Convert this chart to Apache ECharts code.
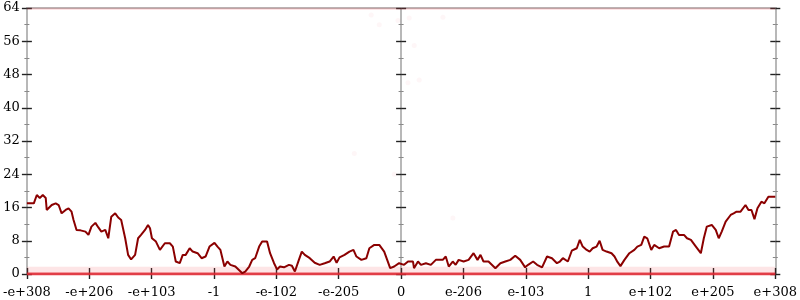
<!DOCTYPE html>
<html><head><meta charset="utf-8">
<script src="https://cdn.jsdelivr.net/npm/echarts@6/dist/echarts.min.js"></script>
<style>html,body{margin:0;padding:0;background:#fff}#c{width:800px;height:300px}</style>
</head><body><div id="c"></div>
<script>
const xTickLabels = ['-e+308','-e+206','-e+103','-1','-e-102','-e-205','0','e-206','e-103','1','e+102','e+205','e+308'];
const yTicks = [0,8,16,24,32,40,48,56,64];
const lineX = [-6,-5.889,-5.841,-5.793,-5.745,-5.698,-5.682,-5.650,-5.602,-5.538,-5.491,-5.443,-5.379,-5.332,-5.284,-5.252,-5.204,-5.141,-5.061,-5.013,-4.965,-4.902,-4.854,-4.806,-4.743,-4.695,-4.647,-4.584,-4.536,-4.488,-4.424,-4.377,-4.329,-4.265,-4.217,-4.170,-4.106,-4.058,-4.026,-3.995,-3.931,-3.867,-3.788,-3.708,-3.660,-3.613,-3.549,-3.501,-3.454,-3.390,-3.342,-3.263,-3.199,-3.135,-3.072,-2.992,-2.944,-2.897,-2.833,-2.785,-2.737,-2.658,-2.546,-2.499,-2.435,-2.387,-2.340,-2.276,-2.228,-2.149,-2.101,-2.037,-1.989,-1.942,-1.878,-1.798,-1.751,-1.703,-1.639,-1.592,-1.544,-1.464,-1.385,-1.305,-1.225,-1.146,-1.082,-1.034,-0.987,-0.907,-0.828,-0.764,-0.716,-0.637,-0.557,-0.509,-0.430,-0.350,-0.271,-0.223,-0.175,-0.111,-0.032,0,0.048,0.111,0.191,0.207,0.271,0.318,0.398,0.477,0.557,0.668,0.716,0.764,0.828,0.875,0.923,1.003,1.082,1.162,1.225,1.273,1.321,1.401,1.512,1.592,1.671,1.751,1.830,1.910,1.989,2.037,2.117,2.180,2.260,2.340,2.419,2.499,2.546,2.594,2.674,2.737,2.817,2.865,2.912,2.976,3.024,3.072,3.135,3.183,3.231,3.294,3.374,3.422,3.469,3.517,3.581,3.660,3.740,3.788,3.851,3.899,3.947,4.011,4.058,4.138,4.217,4.297,4.361,4.408,4.456,4.536,4.584,4.647,4.727,4.806,4.854,4.902,4.981,5.045,5.093,5.141,5.204,5.284,5.332,5.379,5.443,5.522,5.570,5.618,5.666,5.714,5.777,5.825,5.889,6];
const lineY = [17.0,17.0,19.0,18.3,19.0,18.3,15.4,15.0,16.6,17.0,16.6,14.6,15.4,15.8,15.0,13.0,10.6,10.5,10.2,9.4,11.4,12.3,11.2,10.2,10.6,8.6,13.8,14.6,13.6,13.0,8.6,4.6,3.5,4.6,8.6,9.4,10.6,11.8,11.0,8.6,7.8,5.8,7.4,7.4,6.6,3.0,2.6,4.6,4.6,6.2,5.4,5.0,3.8,4.2,6.6,7.5,6.6,5.8,1.8,3.0,2.2,1.8,0.2,0.6,1.8,3.4,3.8,6.6,7.8,7.8,5.0,2.6,1.1,1.8,1.6,2.2,2.0,0.6,3.4,5.4,4.6,3.8,2.7,2.2,2.6,3.0,4.2,2.7,4.0,4.6,5.4,5.8,4.2,3.4,3.8,6.2,7.0,7.0,5.4,3.4,1.4,1.8,2.6,3.0,2.2,3.0,3.0,1.4,3.0,2.2,2.6,2.2,3.4,3.4,4.2,1.8,3.0,2.2,3.4,3.0,3.4,5.0,3.4,4.6,3.0,3.0,1.4,2.6,3.0,3.4,4.4,3.4,1.6,2.2,3.0,2.2,1.6,4.2,3.8,2.6,3.0,3.8,3.0,5.6,6.2,8.2,6.6,5.8,5.4,6.2,6.6,8.0,5.8,5.4,5.0,4.2,2.9,1.9,3.4,5.0,5.8,6.6,7.0,9.0,8.6,5.8,7.0,6.2,6.6,6.6,10.2,10.6,9.4,9.4,8.6,8.2,6.6,5.0,8.6,11.4,11.8,10.6,8.6,10.2,12.6,14.2,14.6,15.0,15.0,16.6,15.4,15.4,13.2,15.8,17.4,17.0,18.6,18.6];
const zeroBand = [[-6,0],[6,0]];
const lowBand = [[-6,1.0],[6,1.0]];
const topBand = [[-6,63.8],[6,63.8]];
const strayPoints = [[-0.48,62.3],[-0.35,60],[0.21,55],[0.11,46],[0.29,46.7],[0.67,61.8],[-0.05,61],[0.13,61.6],[-0.75,29],[-0.11,24],[0.83,13.5]];

const font = 'DejaVu Serif';
const pairs = lineX.map((x,i)=>[x,lineY[i]]);
function yAx(pos, inside, labels, onZero){
  return {type:'value', min:0, max:64, interval:8, position:pos,
    axisLine:{show:true, onZero:onZero, onZeroAxisIndex:0, lineStyle:{color:'#b8b8b8', width:2}},
    axisTick:{show:true, inside:inside, length:5, lineStyle:{color:'#222', width:1.4}},
    minorTick:{show:true, splitNumber:2, length:2.5, lineStyle:{color:'#888', width:1}},
    axisLabel:{show:labels, margin:7, fontFamily:font, fontSize:13, color:'#000'},
    splitLine:{show:false}};
}
function xAx(inside, labels, pos){
  return {type:'value', min:-6, max:6, interval:1, position:pos,
    axisLine:{show:true, onZero:false, lineStyle:{color:'#b8b8b8', width:2}},
    axisTick:{show:pos==='bottom', inside:inside, length:inside?6:5, lineStyle:{color:'#222', width:1.4}},
    axisLabel:{show:labels, margin:12, fontFamily:font, fontSize:13, color:'#000',
      formatter:v=>xTickLabels[Math.round(v+6)]},
    splitLine:{show:false}};
}
const chart = echarts.init(document.getElementById('c'), null, {renderer:'canvas'});
chart.setOption({
  animation:false,
  grid:{left:24, right:22, top:8, bottom:26, containLabel:false},
  xAxis:[xAx(false,true,'bottom'), xAx(true,false,'bottom'), xAx(false,false,'top')],
  yAxis:[yAx('left',false,true,false), yAx('left',true,false,false),
         yAx('left',false,false,true), yAx('left',true,false,true),
         yAx('right',false,false,false), yAx('right',true,false,false)],
  series:[
    {type:'line', data:lowBand, symbol:'none', silent:true, lineStyle:{color:'rgba(240,70,80,0.14)', width:6}},
    {type:'line', data:topBand, symbol:'none', silent:true, lineStyle:{color:'rgba(240,70,80,0.2)', width:2}},
    {type:'line', data:zeroBand, symbol:'none', silent:true, lineStyle:{color:'rgba(232,40,50,0.85)', width:3}},
    {type:'scatter', data:strayPoints, symbolSize:5, silent:true, itemStyle:{color:'rgba(240,70,80,0.06)'}},
    {type:'line', data:pairs, symbol:'none', lineStyle:{color:'#8b0000', width:2}}
  ]
});
</script></body></html>
